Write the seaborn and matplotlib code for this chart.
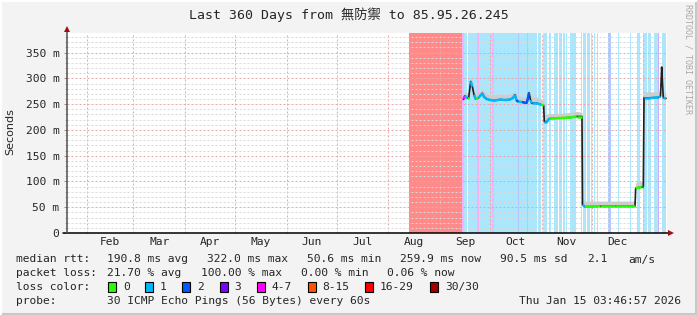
import numpy as np
import pandas as pd
import matplotlib
matplotlib.use("Agg")
import matplotlib.pyplot as plt
import matplotlib.dates as mdates
from matplotlib.patches import Rectangle
from matplotlib.lines import Line2D
import seaborn as sns

# ---------------- data ----------------
START = pd.Timestamp("2025-01-20 03:46:57")
SPAN_DAYS = 360
TITLE = "Last 360 Days from 無防禦 to 85.95.26.245"
Y_LABEL = "Seconds"

# median round-trip time (days since START, milliseconds)
median_day = [237.8, 238.8, 240.0, 241.0, 242.2, 243.2, 244.2, 245.2, 246.8, 249.2,
              250.2, 251.8, 253.8, 256.8, 259.8, 262.8, 265.8, 267.6, 268.8, 269.7,
              270.8, 273.0, 275.8, 276.6, 277.2, 278.1, 278.8, 281.8, 284.4, 286.0,
              286.4, 288.0, 289.4, 295.8, 301.8, 305.8, 309.0, 309.3, 310.8, 319.8,
              328.8, 340.8, 341.2, 344.8, 345.8, 346.2, 349.8, 354.8, 356.1, 356.8,
              357.3, 357.8, 359.4]
median_ms = [259, 266, 262, 262, 294, 284, 268, 260, 262, 271,
             264, 260, 258, 257, 259, 258, 259, 262, 268, 257,
             255, 254, 252, 262, 272, 258, 252, 252, 249, 247,
             216, 216, 222, 223, 224, 226, 226, 55, 51, 52,
             52, 52, 87, 89, 89, 262, 262, 263, 265, 322,
             290, 262, 261]
smoke_top_ms = [268, 274, 272, 270, 302, 294, 278, 270, 272, 278,
                274, 270, 268, 268, 270, 268, 270, 272, 276, 268,
                266, 264, 264, 270, 278, 268, 264, 264, 260, 257,
                230, 230, 232, 232, 234, 236, 234, 64, 62, 62,
                62, 62, 98, 100, 100, 274, 274, 274, 276, 340,
                302, 274, 272]
median_loss = [4, 1, 0, 1, 1, 1, 1, 0, 1, 1,
               1, 1, 1, 1, 1, 1, 1, 1, 1, 2,
               1, 2, 2, 2, 2, 1, 1, 1, 0, 0,
               1, 1, 0, 0, 0, 0, 0,
               1, 0, 0, 0, 0,
               0, 0, 0,
               1, 1, 1, 3, 1, 1, 1, 1]

# packet-loss stripes (days since START)
stripe_from = [205.2, 237.2, 238.4, 240.3, 241.8, 246.1, 247.0, 253.2, 255.2, 256.4,
               270.8, 271.4, 275.8, 276.4, 282.8, 285.6, 289.0, 292.2, 295.0, 297.6,
               299.4, 301.8, 308.4, 309.8, 312.2, 314.6, 316.4, 318.2, 324.8, 330.6,
               337.8, 342.0, 345.4, 348.4, 352.2, 354.8, 356.8]
stripe_to = [237.2, 238.4, 240.0, 241.5, 245.8, 247.0, 252.9, 255.2, 256.4, 270.8,
             271.4, 275.8, 276.4, 281.8, 284.4, 288.0, 290.4, 294.4, 297.2, 298.8,
             300.2, 305.2, 309.0, 311.4, 314.0, 315.2, 317.0, 318.8, 326.2, 331.2,
             338.4, 343.8, 347.8, 350.4, 354.8, 355.4, 359.2]
stripe_loss = [7, 4, 1, 1, 1, 4, 1, 1, 4, 1,
               2, 1, 2, 1, 1, 1, 1, 1, 1, 1,
               1, 1, 1, 1, 1, 1, 1, 1, 2, 1,
               1, 1, 1, 1, 1, 3, 1]

month_labels = ["Feb", "Mar", "Apr", "May", "Jun", "Jul", "Aug", "Sep", "Oct", "Nov", "Dec"]
y_ticks_ms = [0, 50, 100, 150, 200, 250, 300, 350]
y_tick_labels = ["0", "50 m", "100 m", "150 m", "200 m", "250 m", "300 m", "350 m"]
Y_MAX = 388

loss_names = ["0", "1", "2", "3", "4-7", "8-15", "16-29", "30/30"]
loss_colors = ["#26ff00", "#00b8ff", "#0059ff", "#7e00ff", "#ff00ff", "#ff5500", "#ff0000", "#a10000"]
stripe_colors = {1: "#aae6fc", 2: "#b0c8fc", 3: "#ccb2fc", 4: "#f8b0f8", 7: "#ff8a8a"}

rtt_stats = ["190.8 ms avg", "322.0 ms max", "50.6 ms min", "259.9 ms now", "90.5 ms sd", "2.1", "am/s"]
loss_stats = ["21.70 % avg", "100.00 % max", "0.00 % min", "0.06 % now"]
probe_text = "30 ICMP Echo Pings (56 Bytes) every 60s"
stamp_text = "Thu Jan 15 03:46:57 2026"
credit_text = "RRDTOOL / TOBI OETIKER"

# ---------------- style ----------------
sns.set_style("white")
plt.rcParams["font.family"] = ["DejaVu Sans Mono", "Noto Sans CJK SC"]
MONO = ["DejaVu Sans Mono", "Noto Sans CJK SC"]
FS = 8.1

W, H = 697, 315
fig = plt.figure(figsize=(W / 100, H / 100), dpi=100)
fig.patch.set_facecolor("#f3f3f3")

L, R, T, B = 67, 667, 33, 233
ax = fig.add_axes([L / W, (H - B) / H, (R - L) / W, (B - T) / H])
ax.set_facecolor("white")

to_dt = lambda d: START + pd.to_timedelta(d, unit="D")

# loss stripes
for s, e, c in zip(stripe_from, stripe_to, stripe_loss):
    ax.axvspan(to_dt(s), to_dt(e), color=stripe_colors[c], lw=0, zorder=1)

df = pd.DataFrame({"date": to_dt(np.array(median_day)),
                   "ms": median_ms, "smoke": smoke_top_ms, "loss": median_loss})

# smoke
ax.fill_between(df["date"], df["ms"], df["smoke"], color="#cdcdcd", lw=0, zorder=2.2)
# median line (dark)
sns.lineplot(data=df, x="date", y="ms", estimator=None, sort=False, color="#202020",
             lw=1.2, ax=ax, zorder=3)
# loss-coloured median segments
for i in range(len(df) - 1):
    if abs(median_ms[i + 1] - median_ms[i]) <= 12:
        ax.plot(df["date"].iloc[i:i + 2], df["ms"].iloc[i:i + 2],
                color=loss_colors[median_loss[i]], lw=1.8, solid_capstyle="butt", zorder=3.5)

ax.set_xlim(to_dt(0), to_dt(SPAN_DAYS))
ax.set_ylim(0, Y_MAX)
ax.set_xlabel("")
ax.set_ylabel("")

# ticks
month_starts = [pd.Timestamp(2025, m, 1) for m in range(2, 13)] + [pd.Timestamp(2026, 1, 1)]
month_mids = [ms_ + (month_starts[i + 1] - ms_) / 2 for i, ms_ in enumerate(month_starts[:-1])]
ax.set_xticks([mdates.date2num(d) for d in month_mids])
ax.set_xticklabels(month_labels, fontsize=FS, family=MONO)
ax.set_xticks([mdates.date2num(d) for d in month_starts], minor=True)
ax.tick_params(axis="x", which="major", length=0, pad=3)
ax.tick_params(axis="x", which="minor", length=3, width=0.7, color="#e8a0a0", direction="out")

ax.set_yticks(y_ticks_ms)
ax.set_yticklabels(y_tick_labels, fontsize=FS, family=MONO)
ax.set_yticks(np.arange(0, Y_MAX, 10), minor=True)
ax.tick_params(axis="y", which="major", length=2.5, width=0.7, color="#909090", pad=3, left=True)
ax.tick_params(axis="y", which="minor", length=1.5, width=0.7, color="#c0c0c0", left=True)

dot = (0, (2, 2))
ax.set_axisbelow("line")
ax.yaxis.grid(True, which="minor", color="#d9d9d9", lw=0.72, ls=dot)
ax.yaxis.grid(True, which="major", color="#e8a8a8", lw=0.72, ls=dot)
ax.xaxis.grid(True, which="minor", color="#e8a8a8", lw=0.72, ls=dot)
ax.xaxis.grid(False, which="major")

for sp in ax.spines.values():
    sp.set_visible(False)

# axes with arrows
ax.add_line(Line2D([-0.006, 1.005], [0, 0], transform=ax.transAxes, color="black", lw=1.1,
                   clip_on=False, zorder=5))
ax.add_line(Line2D([0, 0], [0, 1.02], transform=ax.transAxes, color="#505050", lw=1.1,
                   clip_on=False, zorder=5))
ax.plot([1.007], [0], marker=">", ms=5, color="#a01010", transform=ax.transAxes,
        clip_on=False, zorder=6, mew=0)
ax.plot([0], [1.022], marker="^", ms=5, color="#a01010", transform=ax.transAxes,
        clip_on=False, zorder=6, mew=0)

# ---------------- texts ----------------
def ftext(x, y, s, **kw):
    kw.setdefault("fontsize", FS)
    kw.setdefault("family", MONO)
    kw.setdefault("va", "center")
    kw.setdefault("ha", "left")
    fig.text(x / W, 1 - y / H, s, **kw)

ftext(W / 2, 15, TITLE, ha="center", fontsize=9.5)
ftext(10, 132, Y_LABEL, ha="center", rotation=90, family=["DejaVu Sans"], fontsize=8)
ftext(688, 59, credit_text, ha="center", rotation=270, fontsize=6, color="#a8a8a8")

y1, y2, y3, y4 = 259.5, 273.5, 287, 301
ftext(16, y1, "median rtt:")
for x, s in zip([107, 207, 307, 400, 500, 587, 628], rtt_stats):
    ftext(x, y1, s)
ftext(16, y2, "packet loss:")
for x, s in zip([107, 201, 301, 387], loss_stats):
    ftext(x, y2, s)
ftext(16, y3, "loss color:")
box_x = [108, 145, 182, 219.5, 257, 307.5, 365, 430]
for bx, c, name in zip(box_x, loss_colors, loss_names):
    fig.add_artist(Rectangle((bx / W, 1 - (y3 + 5) / H), 8 / W, 10 / H, transform=fig.transFigure,
                             facecolor=c, edgecolor="black", lw=0.8))
    ftext(bx + 15, y3, name)
ftext(16, y4, "probe:")
ftext(107, y4, probe_text)
ftext(681, y4, stamp_text, ha="right")

# frame
fig.add_artist(Line2D([0, 1], [1.5 / H, 1.5 / H], transform=fig.transFigure, color="#c8c8c8", lw=2.2))
fig.add_artist(Line2D([1 - 1.5 / W, 1 - 1.5 / W], [0, 1], transform=fig.transFigure, color="#c8c8c8", lw=2.2))
fig.add_artist(Line2D([0, 1], [1 - 1 / H, 1 - 1 / H], transform=fig.transFigure, color="white", lw=1.4))
fig.add_artist(Line2D([1 / W, 1 / W], [0, 1], transform=fig.transFigure, color="white", lw=1.4))

fig.savefig("out.png", dpi=100, facecolor=fig.get_facecolor())
